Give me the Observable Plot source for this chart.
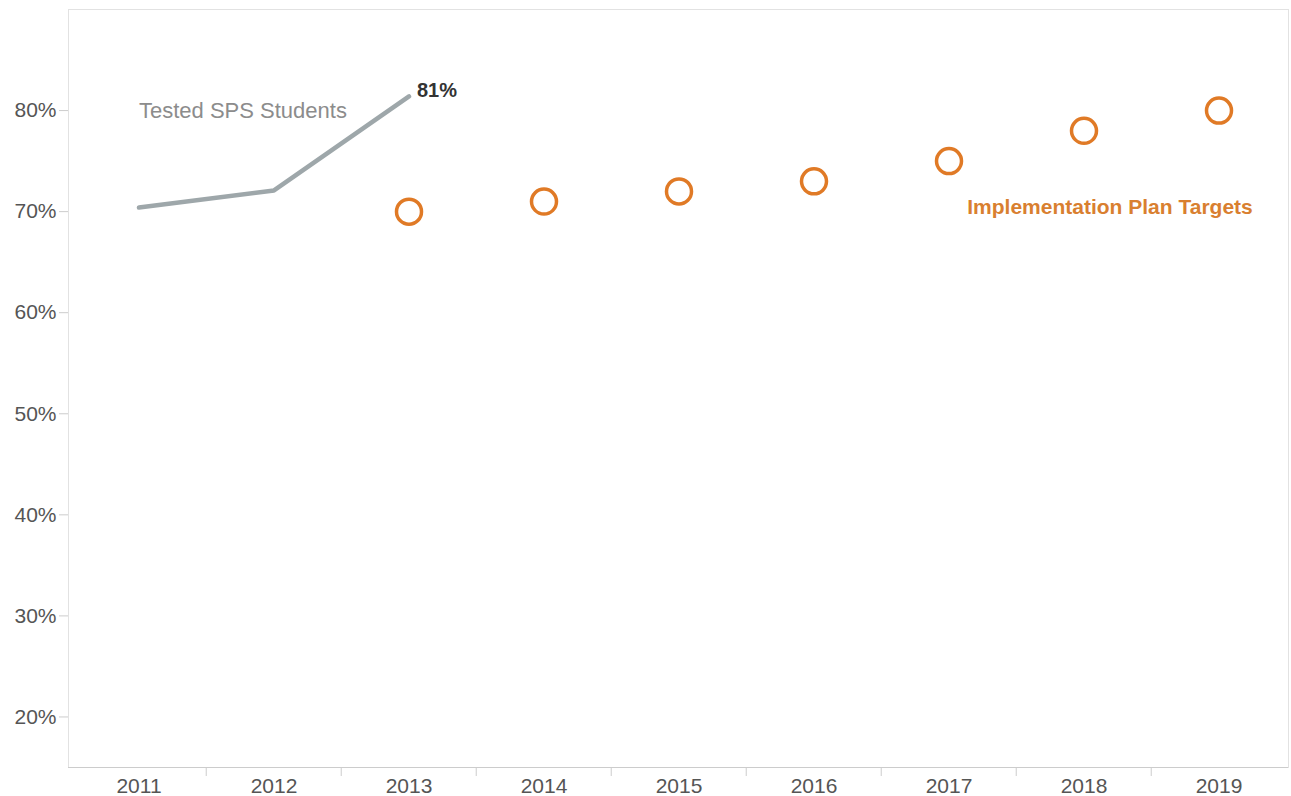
<!DOCTYPE html>
<html>
<head>
<meta charset="utf-8">
<script src="https://cdn.jsdelivr.net/npm/d3@7"></script>
<script src="https://cdn.jsdelivr.net/npm/@observablehq/plot@0.6"></script>
<style>
  html, body { margin: 0; padding: 0; background: #fff; }
  #chart { width: 1291px; height: 796px; }
  svg { font-family: "Liberation Sans", Arial, sans-serif; }
</style>
</head>
<body>
<div id="chart"></div>
<script>
const years = ["2011","2012","2013","2014","2015","2016","2017","2018","2019"];
const testedYears = ["2011","2012","2013"];
const testedValues = [0.704, 0.721, 0.814];
const targetYears = ["2013","2014","2015","2016","2017","2018","2019"];
const targetValues = [0.70, 0.71, 0.72, 0.73, 0.75, 0.78, 0.80];
const yTicks = [0.2, 0.3, 0.4, 0.5, 0.6, 0.7, 0.8];

const tested = testedYears.map((y, i) => ({year: y, value: testedValues[i]}));
const targets = targetYears.map((y, i) => ({year: y, value: targetValues[i]}));

const W = 1291, H = 796, ML = 68, MR = 3, MT = 9, MB = 29;
const bw = (W - ML - MR) / years.length;

const chart = Plot.plot({
  width: W,
  height: H,
  marginLeft: ML,
  marginRight: MR,
  marginTop: MT,
  marginBottom: MB,
  style: {fontFamily: "'Liberation Sans', Arial, sans-serif", background: "#fff"},
  x: {type: "band", domain: years, padding: 0, label: null},
  y: {domain: [0.15, 0.9], label: null},
  marks: [
    Plot.frame({stroke: "#e2e2e2"}),
    Plot.ruleY([0.15], {stroke: "#cccccc"}),
    Plot.axisY({ticks: yTicks, tickFormat: d3.format(".0%"), tickSize: 9, tickPadding: 3,
      fontSize: 21, color: "#555", stroke: "#cccccc"}),
    Plot.axisX({tickSize: 0, tickPadding: 11, fontSize: 21, color: "#555"}),
    Plot.axisX(years.slice(1), {tickSize: 9, tickFormat: () => "", dx: -bw / 2, stroke: "#cccccc"}),
    Plot.line(tested, {x: "year", y: "value", stroke: "#9ea7aa", strokeWidth: 4.5}),
    Plot.dot(targets, {x: "year", y: "value", r: 12.5, stroke: "#e07a26", strokeWidth: 3.5, fill: "none"}),
    Plot.text(["Tested SPS Students"], {x: () => "2011", y: () => 0.80, text: d => d, textAnchor: "start",
      fill: "#8c8c8c", fontSize: 22}),
    Plot.text(tested.slice(-1), {x: "year", y: "value", text: d => d3.format(".0%")(d.value),
      textAnchor: "start", dx: 8, dy: -6, fill: "#333", fontSize: 20, fontWeight: "bold"}),
    Plot.text(["Implementation Plan Targets"], {x: () => "2018", y: () => 0.704, text: d => d,
      textAnchor: "middle", dx: 26, fill: "#d97f30", fontSize: 21, fontWeight: "bold"})
  ]
});
document.getElementById("chart").appendChild(chart);
</script>
</body>
</html>
